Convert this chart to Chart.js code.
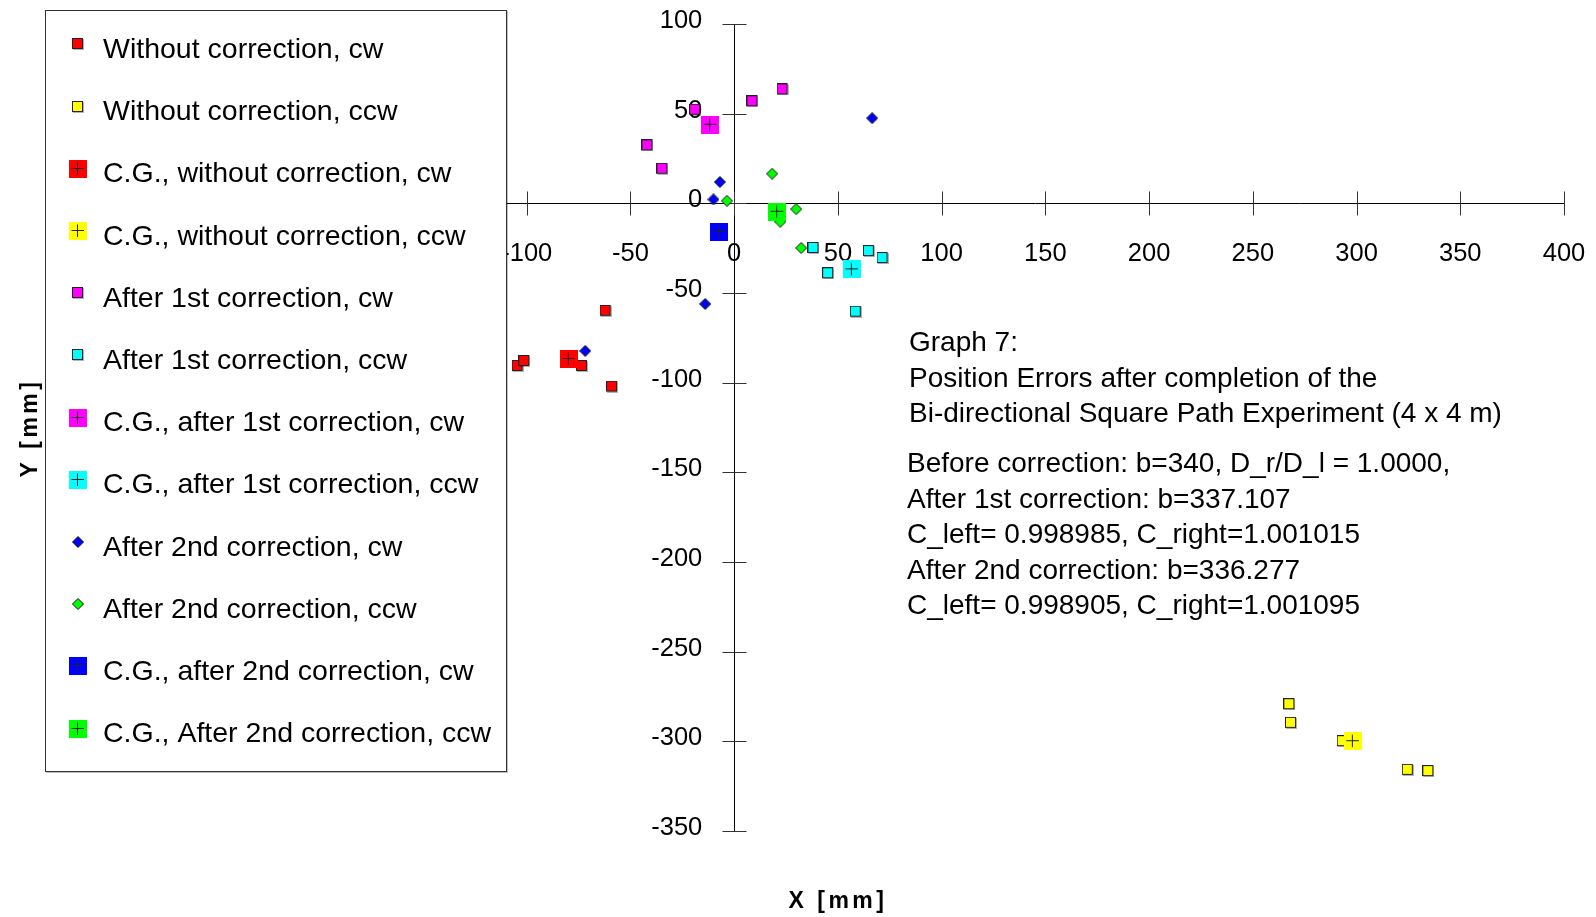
<!DOCTYPE html>
<html>
<head>
<meta charset="utf-8">
<script src="https://cdn.jsdelivr.net/npm/chart.js@4/dist/chart.umd.min.js"></script>
<style>
  html, body { margin: 0; padding: 0; background: #fff; }
</style>
</head>
<body>
<canvas id="errGraph" width="1596" height="917"></canvas>
<script>
var FONT = "'Liberation Sans', Arial, sans-serif";

// series names, in legend order
var seriesLabels = [
    'Without correction, cw',
    'Without correction, ccw',
    'C.G., without correction, cw',
    'C.G., without correction, ccw',
    'After 1st correction, cw',
    'After 1st correction, ccw',
    'C.G., after 1st correction, cw',
    'C.G., after 1st correction, ccw',
    'After 2nd correction, cw',
    'After 2nd correction, ccw',
    'C.G., after 2nd correction, cw',
    'C.G., After 2nd correction, ccw'
];

// values in mm
var noCorrCwX = [-104.4, -101.2, -73.4, -62.0, -58.9];
var noCorrCwY = [-90.7, -87.9, -90.7, -59.9, -102.2];
var noCorrCcwX = [267.6, 268.4, 293.3, 324.7, 334.6];
var noCorrCcwY = [-279.3, -289.7, -299.9, -315.9, -316.6];
var cgNoCorrCwX = [-79.7];
var cgNoCorrCwY = [-86.8];
var cgNoCorrCcwX = [298.2];
var cgNoCorrCcwY = [-299.9];

var first1CwX = [-41.8, -34.6, -18.8, 8.8, 23.3];
var first1CwY = [32.3, 19.3, 52.2, 56.9, 63.5];
var first1CcwX = [38.2, 64.9, 71.5, 45.3, 58.6];
var first1CcwY = [-24.9, -26.6, -30.5, -39.0, -60.4];
var cgFirstCwX = [-11.6];
var cgFirstCwY = [43.8];
var cgFirstCcwX = [56.7];
var cgFirstCcwY = [-36.8];

var second2CwX = [66.5, -6.9, -10.0, -14.0, -71.8];
var second2CwY = [47.5, 11.9, 2.2, -56.1, -82.3];
var second2CcwX = [18.3, -3.5, 29.9, 22.2, 32.3];
var second2CcwY = [16.5, 1.4, -3.2, -10.3, -24.9];
var cgSecondCwX = [-7.1];
var cgSecondCwY = [-15.8];
var cgSecondCcwX = [20.7];
var cgSecondCcwY = [-4.7];

var xsList = [noCorrCwX, noCorrCcwX, cgNoCorrCwX, cgNoCorrCcwX, first1CwX, first1CcwX, cgFirstCwX, cgFirstCcwX, second2CwX, second2CcwX, cgSecondCwX, cgSecondCcwX];
var ysList = [noCorrCwY, noCorrCcwY, cgNoCorrCwY, cgNoCorrCcwY, first1CwY, first1CcwY, cgFirstCwY, cgFirstCcwY, second2CwY, second2CcwY, cgSecondCwY, cgSecondCcwY];

var colors = ['#ff0000', '#ffff00', '#ff0000', '#ffff00', '#ff00ff', '#00ffff', '#ff00ff', '#00ffff', '#0000ff', '#00ff00', '#0000ff', '#00ff00'];
var kinds = ['square', 'square', 'cg', 'cg', 'square', 'square', 'cg', 'cg', 'diamond', 'diamond', 'cg', 'cg'];

var noteLines = [
    'Graph 7:',
    'Position Errors after completion of the',
    'Bi-directional Square Path Experiment (4 x 4 m)',
    'Before correction: b=340, D_r/D_l = 1.0000,',
    'After 1st correction: b=337.107',
    'C_left= 0.998985, C_right=1.001015',
    'After 2nd correction: b=336.277',
    'C_left= 0.998905, C_right=1.001095'
];

function makeMarker(kind, color) {
    var c = document.createElement('canvas');
    var g = c.getContext('2d');
    if (kind === 'square') {
        c.width = 12; c.height = 12;
        g.fillStyle = 'rgba(0,0,0,0.3)';
        g.fillRect(1, 1, 11, 11);
        g.fillStyle = color;
        g.fillRect(0, 0, 11, 11);
        g.strokeStyle = '#222';
        g.lineWidth = 1;
        g.strokeRect(0.5, 0.5, 10, 10);
    } else if (kind === 'diamond') {
        c.width = 12; c.height = 12;
        g.beginPath();
        g.moveTo(6, 0.5); g.lineTo(11.5, 6); g.lineTo(6, 11.5); g.lineTo(0.5, 6);
        g.closePath();
        g.fillStyle = color;
        g.fill();
        g.strokeStyle = '#111';
        g.lineWidth = 1;
        g.stroke();
    } else {
        c.width = 18; c.height = 18;
        g.fillStyle = color;
        g.fillRect(0, 0, 18, 18);
        g.strokeStyle = '#222';
        g.lineWidth = 1;
        g.beginPath();
        g.moveTo(2.5, 8.5); g.lineTo(15, 8.5);
        g.moveTo(8.5, 2.5); g.lineTo(8.5, 15);
        g.stroke();
    }
    return c;
}

var datasets = seriesLabels.map(function (name, i) {
    return {
        label: name,
        data: xsList[i].map(function (x, j) { return {x: x, y: ysList[i][j]}; }),
        pointStyle: makeMarker(kinds[i], colors[i]),
        backgroundColor: colors[i],
        showLine: false,
        order: kinds[i] === 'cg' ? 0 : 1,
        clip: false
    };
});

function flatX(scale) {
    scale.height = 0;
    scale.paddingLeft = scale.paddingRight = scale.paddingTop = scale.paddingBottom = 0;
}
function flatY(scale) {
    scale.width = 0;
    scale.paddingLeft = scale.paddingRight = scale.paddingTop = scale.paddingBottom = 0;
}

// tick marks that cross the axes
var crossTicks = {
    id: 'crossTicks',
    beforeDatasetsDraw: function (chart) {
        var ctx = chart.ctx, xs = chart.scales.x, ys = chart.scales.y;
        var x0 = Math.round(xs.getPixelForValue(0)) + 0.5;
        var y0 = Math.round(ys.getPixelForValue(0)) + 0.5;
        ctx.save();
        ctx.strokeStyle = '#333';
        ctx.lineWidth = 1;
        ctx.beginPath();
        xs.ticks.forEach(function (t) {
            var px = Math.round(xs.getPixelForValue(t.value)) + 0.5;
            ctx.moveTo(px, y0 - 12); ctx.lineTo(px, y0 + 12);
        });
        ys.ticks.forEach(function (t) {
            var py = Math.round(ys.getPixelForValue(t.value)) + 0.5;
            ctx.moveTo(x0 - 12, py); ctx.lineTo(x0 + 12, py);
        });
        ctx.stroke();
        ctx.restore();
    }
};

// boxed legend, note text and axis titles
var decorations = {
    id: 'decorations',
    afterDraw: function (chart) {
        var ctx = chart.ctx;
        ctx.save();

        // legend box
        ctx.fillStyle = 'rgba(0,0,0,0.25)';
        ctx.fillRect(46, 11, 462, 762);
        ctx.fillStyle = '#fff';
        ctx.fillRect(45, 10, 462, 762);
        ctx.strokeStyle = '#333';
        ctx.lineWidth = 1;
        ctx.strokeRect(45.5, 10.5, 461, 761);

        ctx.font = '28.5px ' + FONT;
        ctx.fillStyle = '#000';
        ctx.textAlign = 'left';
        ctx.textBaseline = 'alphabetic';
        chart.data.datasets.forEach(function (ds, i) {
            var img = ds.pointStyle;
            var cy = 44.3 + i * 62.2;
            ctx.drawImage(img, Math.round(78 - img.width / 2), Math.round(cy - img.height / 2));
            ctx.fillText(ds.label, 103, 58 + i * 62.2);
        });

        // note
        ctx.font = '28px ' + FONT;
        ctx.textBaseline = 'middle';
        var noteY = [343, 379.7, 414.3, 464.2, 499.8, 535.4, 571.1, 606.7];
        noteLines.forEach(function (line, i) {
            ctx.fillText(line, i < 3 ? 909 : 907, noteY[i]);
        });

        // axis titles
        ctx.font = 'bold 23px ' + FONT;
        ctx.letterSpacing = '3.5px';
        ctx.textAlign = 'center';
        ctx.fillText('X [mm]', 838, 902);
        ctx.translate(30.5, 428);
        ctx.rotate(-Math.PI / 2);
        ctx.fillText('Y [mm]', 0, 0);
        ctx.restore();
    }
};

var tickFont = { family: FONT, size: 25.5 };

var ctx = document.getElementById('errGraph');
var errGraph = new Chart(ctx, {
    type: 'scatter',
    data: { datasets: datasets },
    options: {
        responsive: false,
        animation: false,
        events: [],
        layout: { padding: { left: 506, right: 32, top: 24, bottom: 86 } },
        plugins: {
            legend: { display: false },
            tooltip: { enabled: false }
        },
        scales: {
            x: {
                type: 'linear',
                min: -110,
                max: 400,
                position: { y: 0 },
                afterFit: flatX,
                border: { color: '#000', width: 1 },
                grid: { drawOnChartArea: false, drawTicks: false },
                ticks: {
                    stepSize: 50,
                    includeBounds: false,
                    autoSkip: false,
                    maxRotation: 0,
                    padding: 35,
                    color: '#000',
                    font: tickFont
                }
            },
            y: {
                type: 'linear',
                min: -350,
                max: 100,
                position: { x: 0 },
                afterFit: flatY,
                border: { color: '#000', width: 1 },
                grid: { drawOnChartArea: false, drawTicks: false },
                ticks: { display: false, stepSize: 50 }
            },
            // label column for the y axis, set a little left of the zero line
            yLabels: {
                type: 'linear',
                axis: 'y',
                min: -350,
                max: 100,
                position: { x: -15.4 },
                afterFit: flatY,
                border: { display: false },
                grid: { display: false, drawTicks: false },
                ticks: {
                    stepSize: 50,
                    autoSkip: false,
                    labelOffset: -3,
                    color: '#000',
                    font: tickFont
                }
            }
        }
    },
    plugins: [crossTicks, decorations]
});
</script>
</body>
</html>
